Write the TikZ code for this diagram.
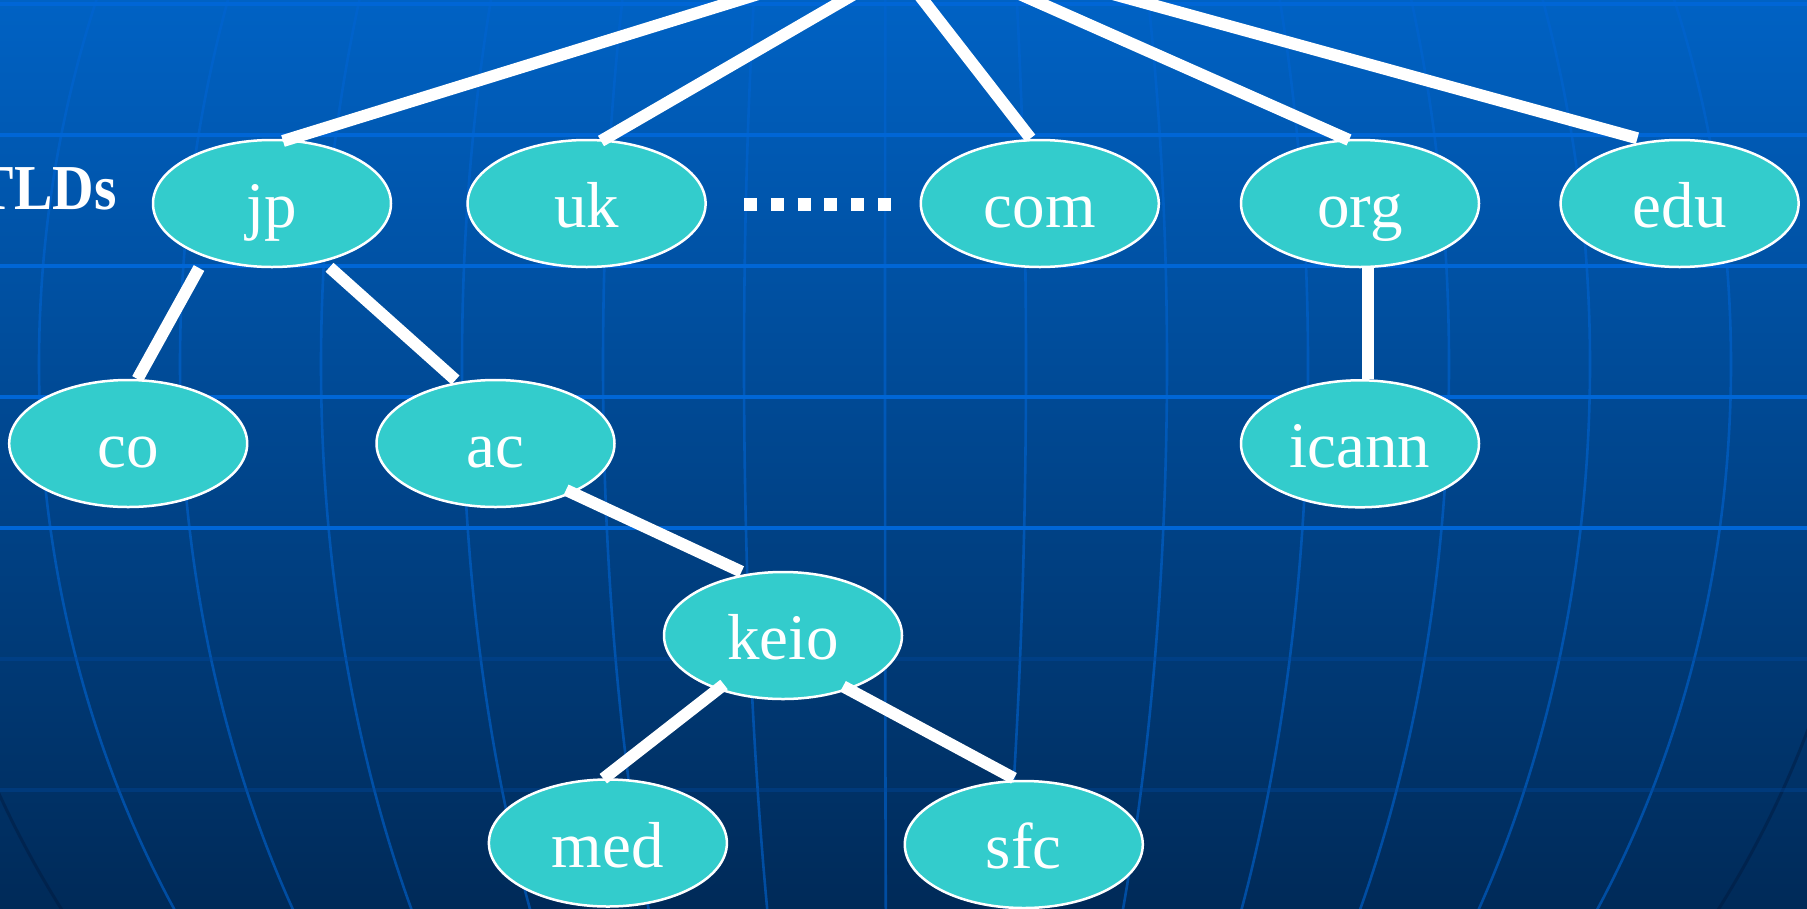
\documentclass[tikz,border=0pt]{standalone}
\usepackage{fontspec}
\setmainfont{Liberation Serif}
\usetikzlibrary{shapes.geometric,calc}
\definecolor{bgtop}{RGB}{0,98,196}
\definecolor{bgbot}{RGB}{0,42,88}
\definecolor{gridhi}{RGB}{0,102,214}
\definecolor{gridlo}{RGB}{0,72,156}
\definecolor{merid}{RGB}{0,100,210}
\definecolor{rim}{RGB}{0,22,56}
\definecolor{tealfill}{RGB}{51,204,204}
\begin{document}
\begin{tikzpicture}[x=1pt,y=-1pt,
  dom/.style={ellipse, draw=white, line width=2.5pt, fill=tealfill, text=white,
    minimum width=238pt, minimum height=127pt, inner sep=0pt,
    text height=60pt, text depth=12pt, font=\fontsize{65}{78}\selectfont},
  conn/.style={draw=white, line width=12pt, line cap=butt},
  hline/.style={line width=3.3pt},
  mline/.style={draw=merid, opacity=0.6, line width=2.6pt},
  dotline/.style={draw=white, line width=13pt, dash pattern=on 13pt off 13.8pt}]

\useasboundingbox (0,0) rectangle (1807,908);
\clip (0,0) rectangle (1807,908);
\shade[top color=bgtop, bottom color=bgbot] (0,0) rectangle (1807,908);

% globe meridians
\foreach \s in {-851,-710,-569,-428,-287,-146,-5,136,277,418,559,700,841}
  \draw[mline] plot[domain=-10:918, samples=50, smooth] ({890+\s*sqrt(1-((\x-364)/1008)^2)}, \x);
\foreach \s in {-985,985}
  \draw[draw=rim, opacity=0.4, line width=3pt] plot[domain=500:918, samples=30, smooth] ({890+\s*sqrt(1-((\x-364)/1008)^2)}, \x);

% horizontal grid lines
\foreach \y in {4,135,266,397,528}
  \draw[hline, draw=gridhi] (0,\y) -- (1807,\y);
\foreach \y in {659,790}
  \draw[hline, draw=gridlo, opacity=0.4] (0,\y) -- (1807,\y);

% label
\node[anchor=base east, text=white, inner sep=0pt,
      font=\fontsize{64}{76}\selectfont\bfseries] (tlds) at (117,209) {\scalebox{0.9}[1]{TLDs}};

% nodes
\node[dom] (jp)    at (272,203.5)    {jp};
\node[dom] (uk)    at (586.6,203.5)  {uk};
\node[dom] (com)   at (1039.8,203.5) {com};
\node[dom] (org)   at (1360,203.5)   {org};
\node[dom] (edu)   at (1679.6,203.5) {edu};
\node[dom] (co)    at (128.2,443.5)  {co};
\node[dom] (ac)    at (495.5,443.5)  {ac};
\node[dom] (icann) at (1360,443.8)   {icann};
\node[dom] (keio)  at (783,635.5)    {keio};
\node[dom] (med)   at (607.9,843)    {med};
\node[dom] (sfc)   at (1023.8,844.5) {sfc};

% dots between uk and com
\coordinate (dotL) at (744,204.5);
\coordinate (dotR) at (892,204.5);
\draw[dotline] (dotL) -- (dotR);

% lines from the (off-picture) root
\coordinate (r1) at (803.7,-20);
\coordinate (r2) at (878.5,-20);
\coordinate (r3) at (907.5,-20);
\coordinate (r4) at (987.9,-20);
\coordinate (r5) at (1061.8,-20);
\draw[conn] (r1) -- ($(jp)+(11,-62.5)$);
\draw[conn] (r2) -- ($(uk)+(14.4,-62.5)$);
\draw[conn] (r3) -- ($(com)+(-9.3,-65.2)$);
\draw[conn] (r4) -- ($(org)+(-11,-63.5)$);
\draw[conn] (r5) -- ($(edu)+(-42.2,-65.2)$);

% tree connectors
\draw[conn] ($(jp)+(-73,64.5)$) -- ($(co)+(9.3,-64.5)$);
\draw[conn] ($(jp)+(57.5,63.8)$) -- ($(ac)+(-40,-63.5)$);
\draw[conn] ($(org)+(8,64.8)$) -- ($(icann)+(8,-64.5)$);
\draw[conn] ($(ac)+(70.5,46.5)$) -- ($(keio)+(-41.5,-63.8)$);
\draw[conn] ($(keio)+(-59,49)$) -- ($(med)+(-4.6,-64.3)$);
\draw[conn] ($(keio)+(60,50.8)$) -- ($(sfc)+(-9.8,-66.2)$);
\end{tikzpicture}
\end{document}
